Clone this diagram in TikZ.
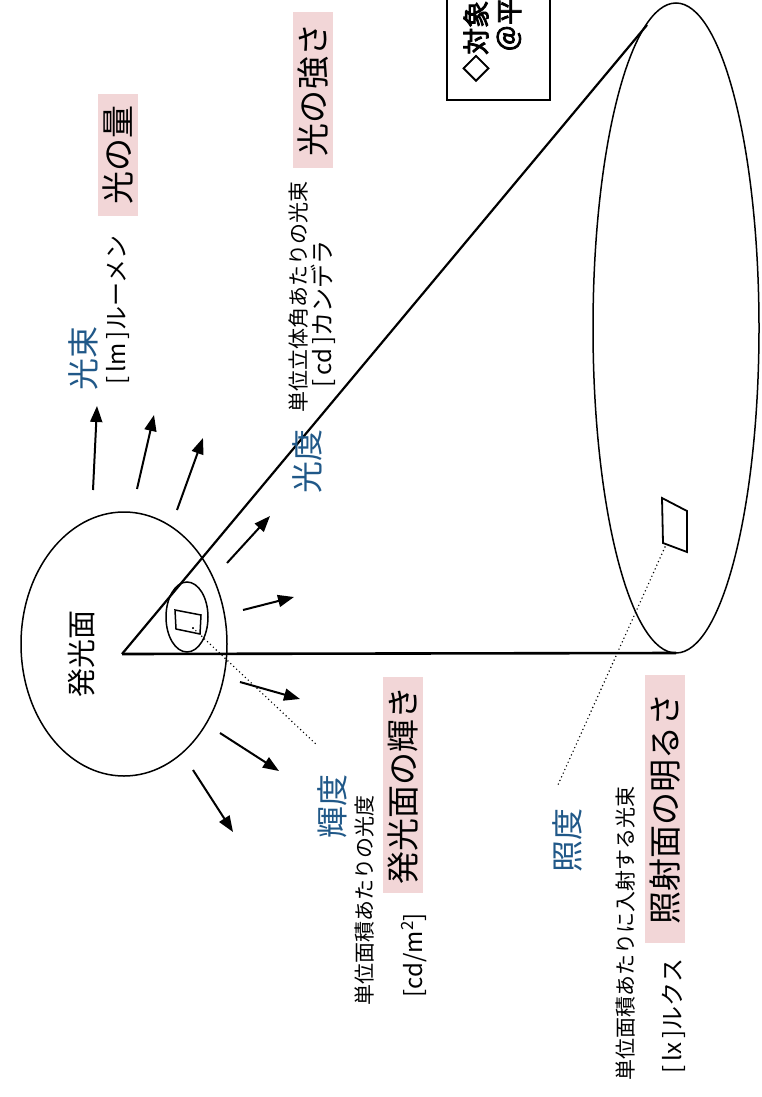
\documentclass[tikz,border=0pt]{standalone}
\usepackage{fontspec}
\setmainfont{Noto Sans CJK JP}
\newfontfamily\cjkbold{Noto Sans CJK JP}[FakeBold=3]
\usetikzlibrary{arrows.meta}
\definecolor{pinkbg}{RGB}{242,214,215}
\definecolor{tblue}{RGB}{32,88,136}
\begin{document}
\begin{tikzpicture}[x=1pt,y=-1pt,
  lbl/.style={inner sep=0pt, rotate=90},
  term/.style={lbl, text=tblue, font=\fontsize{32}{32}\selectfont},
  desc/.style={lbl, font=\fontsize{21}{21}\selectfont},
  unitlbl/.style={lbl, font=\fontsize{24}{24}\selectfont},
  pinkbox/.style={lbl, fill=pinkbg, font=\fontsize{33}{33}\selectfont, minimum height=40pt},
  ray/.style={line width=2pt, -{Triangle[length=16pt,width=12pt]}},
  thin/.style={line width=1.5pt},
  dots/.style={line width=1.6pt, line cap=round, dash pattern=on 0pt off 4pt},
  wm/.style={lbl, anchor=west, font=\cjkbold\fontsize{27}{27}\selectfont}
]
\useasboundingbox (0,0) rectangle (762,1097);
\begin{scope}
\clip (0,0) rectangle (762,1097);

% light-emitting surface
\draw[thin] (124,644) ellipse [x radius=103pt, y radius=132pt];
\node[lbl, font=\fontsize{29}{29}\selectfont] (surf) at (82,654) {発光面};

% cone
\coordinate (apex) at (122,654);
\coordinate (tang) at (647,25);
\coordinate (bot) at (676,653);
\draw[line width=2.2pt] (apex) -- (tang);
\draw[line width=2.6pt] (apex) -- (bot);
\draw[thin] (676,328) ellipse [x radius=83pt, y radius=325pt];

% small solid-angle section
\draw[thin] (187,617) ellipse [x radius=21pt, y radius=35pt];
\draw[thin] (175,610) -- (201,615) -- (200,634) -- (176,629) -- cycle;
\coordinate (sdot) at (193,628);
\fill (sdot) circle (1pt);
\coordinate (send) at (318,746);
\draw[dots] (sdot) -- (send);

% element on illuminated surface
\draw[line width=1.8pt] (662,498) -- (687,511) -- (687,552) -- (663,543) -- cycle;
\coordinate (bsq) at (665,547);
\coordinate (bend) at (557,787);
\draw[dots] (bsq) -- (bend);

% radiating arrows
\coordinate (r1a) at (93,490);  \coordinate (r1b) at (97,406);
\coordinate (r2a) at (137,489); \coordinate (r2b) at (154,415);
\coordinate (r3a) at (177,510); \coordinate (r3b) at (203,438);
\coordinate (r4a) at (227,563); \coordinate (r4b) at (270,516);
\coordinate (r5a) at (243,610); \coordinate (r5b) at (294,597);
\coordinate (r6a) at (240,682); \coordinate (r6b) at (300,699);
\coordinate (r7a) at (220,733); \coordinate (r7b) at (279,771);
\coordinate (r8a) at (193,770); \coordinate (r8b) at (233,832);
\foreach \i in {1,...,8} {\draw[ray] (r\i a) -- (r\i b);}

% luminous flux
\node[term] (flux) at (83,358) {光束};
\node[unitlbl] (fluxu) at (118,310) {[\,lm\,]ルーメン};
\node[pinkbox, minimum width=122pt] (fluxp) at (118,155) {光の量};

% luminous intensity
\node[term] (inten) at (307,461) {光度};
\node[desc] (intend) at (299,297) {単位立体角あたりの光束};
\node[unitlbl] (intenu) at (323,314) {[\,cd\,]カンデラ};
\node[pinkbox, minimum width=156pt] (intenp) at (313,90) {光の強さ};

% luminance
\node[term] (lum) at (332,806) {輝度};
\node[desc] (lumd) at (365,900) {単位面積あたりの光度};
\node[pinkbox, minimum width=216pt] (lump) at (403,785) {発光面の輝き};
\node[unitlbl] (lumu) at (414,955) {[cd/m\textsuperscript{2}]};

% illuminance
\node[term] (ill) at (567,840) {照度};
\node[desc] (illd) at (626,933) {単位面積あたりに入射する光束};
\node[pinkbox, minimum width=268pt] (illp) at (665,809) {照射面の明るさ};
\node[unitlbl] (illu) at (674,1016) {[\,lx\,]ルクス};

% watermark box
\draw[line width=1.5pt] (447,-5) rectangle (550,100);
\node[wm] (wm1) at (476,82) {◇対象};
\node[wm] (wm2) at (509,52) {＠平};
\end{scope}
\end{tikzpicture}
\end{document}
